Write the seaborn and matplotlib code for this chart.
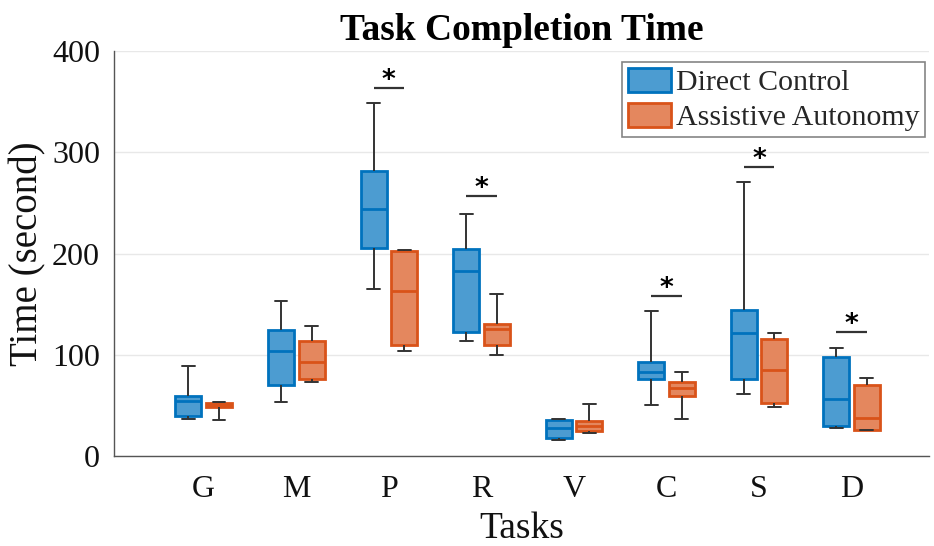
import matplotlib
matplotlib.use("Agg")
import matplotlib.pyplot as plt
from matplotlib.patches import Patch
import numpy as np
import pandas as pd
import seaborn as sns

# Tasks and the two control conditions
tasks = ["G", "M", "P", "R", "V", "C", "S", "D"]
conditions = ["Direct Control", "Assistive Autonomy"]

# Five-number summaries (seconds): min, lower quartile, median, upper quartile, max
dc_min = [37, 53, 165, 114, 16, 50, 61, 28]
dc_q1 = [40, 70, 205, 122, 18, 76, 76, 30]
dc_med = [54, 104, 244, 183, 28, 83, 121, 56]
dc_q3 = [59, 124, 281, 204, 36, 93, 144, 98]
dc_max = [89, 153, 349, 239, 37, 143, 271, 107]

aa_min = [36, 73, 104, 100, 23, 37, 48, 26]
aa_q1 = [48, 76, 110, 110, 25, 59, 52, 26]
aa_med = [50, 93, 163, 125, 30, 67, 85, 38]
aa_q3 = [52, 114, 202, 130, 35, 73, 116, 70]
aa_max = [53, 128, 203, 160, 51, 83, 121, 77]

# Significance markers: task and bar height
sig_tasks = ["P", "R", "C", "S", "D"]
sig_heights = [363, 257, 158, 285, 122]

edge_colors = {"Direct Control": "#0072BD", "Assistive Autonomy": "#D95319"}
face_colors = {"Direct Control": "#4C9CD1", "Assistive Autonomy": "#E4875E"}

rows = []
for cond, stats in [
    ("Direct Control", (dc_min, dc_q1, dc_med, dc_q3, dc_max)),
    ("Assistive Autonomy", (aa_min, aa_q1, aa_med, aa_q3, aa_max)),
]:
    for i, task in enumerate(tasks):
        for s in stats:
            rows.append({"Task": task, "Condition": cond, "Time": s[i]})
df = pd.DataFrame(rows)

sns.set_theme(style="white")
plt.rcParams["font.family"] = ["Liberation Serif", "DejaVu Serif"]

fig = plt.figure(figsize=(9.34, 5.46), dpi=100)
ax = fig.add_axes([0.122, 0.1648, 0.873, 0.7418])

whisk = dict(color="#333333", linewidth=1.4)
for cond in conditions:
    sns.boxplot(
        data=df[df["Condition"] == cond], x="Task", y="Time",
        hue="Condition", hue_order=conditions, order=tasks,
        palette=face_colors, dodge=True, width=0.66, gap=0.15,
        whis=(0, 100), saturation=1, linewidth=2.0,
        linecolor=edge_colors[cond],
        whiskerprops=whisk, capprops=whisk,
        medianprops=dict(color=edge_colors[cond], linewidth=2.0),
        showfliers=False, legend=False, ax=ax,
    )

# Significance bars with asterisks
offset = 0.165
for task, h in zip(sig_tasks, sig_heights):
    xi = tasks.index(task)
    ax.plot([xi - offset, xi + offset], [h, h], color="#333333", lw=1.6,
            solid_capstyle="butt")
    ax.text(xi, h, "*", ha="center", va="baseline", fontsize=19,
            fontweight="bold", color="black", family="DejaVu Sans")

ax.set_xlim(-0.97, 7.84)
ax.set_ylim(0, 400)
ax.set_yticks([0, 100, 200, 300, 400])
ax.yaxis.grid(True, color="#e8e8e8", linewidth=1.0)
ax.set_axisbelow(True)

for side in ["top", "right"]:
    ax.spines[side].set_visible(False)
for side in ["left", "bottom"]:
    ax.spines[side].set_color("#555555")
    ax.spines[side].set_linewidth(1.0)

ax.tick_params(axis="both", direction="in", length=6, width=1.0,
               color="#555555", labelsize=23, labelcolor="#111111")
ax.tick_params(axis="y", pad=10)
ax.tick_params(axis="x", pad=14)

ax.set_xlabel("Tasks", fontsize=27, color="#111111", labelpad=5)
ax.set_ylabel("Time (second)", fontsize=28, color="#111111", labelpad=4)
ax.set_title("Task Completion Time", fontsize=27, fontweight="bold",
             color="black", pad=8)

handles = [Patch(facecolor=face_colors[c], edgecolor=edge_colors[c],
                 linewidth=2.0, label=c) for c in conditions]
leg = ax.legend(handles=handles, loc="upper right",
                bbox_to_anchor=(0.995, 0.973), borderaxespad=0,
                fontsize=21.5, frameon=True, fancybox=False,
                handlelength=1.45, handleheight=0.85, handletextpad=0.15,
                borderpad=0.2, labelspacing=0.22)
leg.get_frame().set_edgecolor("#666666")
leg.get_frame().set_linewidth(1.2)

fig.savefig("out.png", dpi=100)
